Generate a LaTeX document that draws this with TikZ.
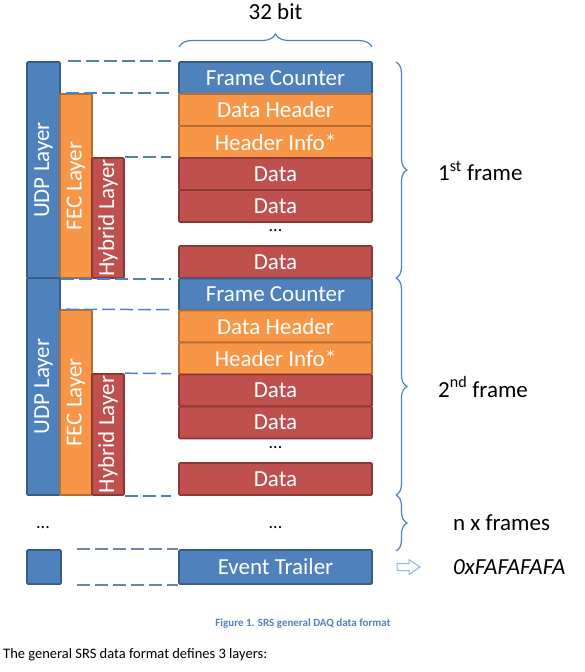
\documentclass[tikz,border=0pt]{standalone}
\usepackage{fontspec}
\setmainfont{Carlito}
\usetikzlibrary{decorations.pathreplacing}
\definecolor{bfill}{HTML}{4F81BD}
\definecolor{bline}{HTML}{385D8A}
\definecolor{ofill}{HTML}{F79646}
\definecolor{oline}{HTML}{B66D31}
\definecolor{rfill}{HTML}{C0504D}
\definecolor{rline}{HTML}{8C3836}
\definecolor{dashgray}{HTML}{6F85A3}
\definecolor{arrowblue}{HTML}{8EB4E3}
\tikzset{
  big/.style={font=\fontsize{23}{27}\selectfont},
  cell/.style={big, text=white, line width=1.6pt, rounded corners=1pt, inner sep=0pt, minimum width=193pt, minimum height=32pt},
  bluecell/.style={cell, fill=bfill, draw=bline},
  orangecell/.style={cell, fill=ofill, draw=oline},
  redcell/.style={cell, fill=rfill, draw=rline},
  bar/.style={line width=1.6pt, rounded corners=1pt, inner sep=0pt, minimum height=#1,
    label={[big, text=white, rotate=90, inner sep=0pt]center:\barlabel}},
  guide/.style={draw=bfill, line width=1.5pt, dash pattern=on 13pt off 5pt},
  guidegray/.style={draw=dashgray, line width=1.5pt, dash pattern=on 13pt off 5pt},
  bracestyle/.style={draw=bfill, line width=1.2pt, decorate, decoration={brace, amplitude=11pt}},
  lbl/.style={big, text=black, anchor=west, inner sep=0pt},
  dots/.style={font=\fontsize{18}{20}\selectfont, inner sep=0pt}
}
\newcommand{\barlabel}{}
\begin{document}
\begin{tikzpicture}[x=1pt, y=-1pt]
\useasboundingbox (0,0) rectangle (585,672);

% 32 bit
\node[big, inner sep=0pt] (bits) at (275.5,12) {32 bit};
\coordinate (tb1) at (179,47);
\coordinate (tb2) at (372,47);
\draw[bracestyle, decoration={amplitude=13pt}] (tb1) -- (tb2);

% frame 1 cells
\node[bluecell]   (fc1) at (275.5,78)  {Frame Counter};
\node[orangecell] (dh1) at (275.5,110) {Data Header};
\node[orangecell] (hi1) at (275.5,142) {Header Info*};
\node[redcell]    (da1) at (275.5,174) {Data};
\node[redcell]    (db1) at (275.5,206) {Data};
\node[dots]       (dt1) at (275.5,231) {...};
\node[redcell]    (dc1) at (275.5,262) {Data};

% frame 2 cells
\node[bluecell]   (fc2) at (275.5,294.5) {Frame Counter};
\node[orangecell] (dh2) at (275.5,326.5) {Data Header};
\node[orangecell] (hi2) at (275.5,358.5) {Header Info*};
\node[redcell]    (da2) at (275.5,390.5) {Data};
\node[redcell]    (db2) at (275.5,422.5) {Data};
\node[dots]       (dt2) at (275.5,448) {...};
\node[redcell]    (dc2) at (275.5,479) {Data};

% layer bars frame 1
\renewcommand{\barlabel}{UDP Layer}
\node[bar=216pt, fill=bfill, draw=bline, minimum width=33pt] (udp1) at (43.5,170) {};
\renewcommand{\barlabel}{FEC Layer}
\node[bar=184pt, fill=ofill, draw=oline, minimum width=32pt] (fec1) at (76,186) {};
\renewcommand{\barlabel}{Hybrid Layer}
\node[bar=120pt, fill=rfill, draw=rline, minimum width=32pt] (hyb1) at (108,218) {};

% layer bars frame 2
\renewcommand{\barlabel}{UDP Layer}
\node[bar=217pt, fill=bfill, draw=bline, minimum width=33pt] (udp2) at (43.5,386.5) {};
\renewcommand{\barlabel}{FEC Layer}
\node[bar=185pt, fill=ofill, draw=oline, minimum width=32pt] (fec2) at (76,402.5) {};
\renewcommand{\barlabel}{Hybrid Layer}
\node[bar=121pt, fill=rfill, draw=rline, minimum width=32pt] (hyb2) at (108,434.5) {};

% guides frame 1
\draw[guide, shorten >=7pt, shorten <=7pt] (udp1.north east) -- (fc1.north west);
\draw[guide, shorten >=7pt, shorten <=7pt] (fec1.north west) -- (dh1.north west);
\draw[guide, shorten >=7pt] (hyb1.north east) -- (da1.north west);
\draw[guide, shorten >=7pt] (udp1.south east) -- (dc1.south west);

% guides frame 2
\draw[guide, shorten >=7pt, shorten <=7pt] (fec2.north west) -- (dh2.north west);
\draw[guide, shorten >=7pt] (hyb2.north east) -- (da2.north west);
\draw[guide, shorten >=7pt] (hyb2.south east) -- (dc2.south west);

% right braces
\coordinate (r1a) at (396,62);
\coordinate (r1b) at (396,278);
\coordinate (r2a) at (396,278);
\coordinate (r2b) at (396,495);
\coordinate (r3a) at (396,495);
\coordinate (r3b) at (396,551);
\draw[bracestyle] (r1a) -- (r1b);
\draw[bracestyle] (r2a) -- (r2b);
\draw[bracestyle] (r3a) -- (r3b);
\node[lbl] (l1) at (438,171) {1\textsuperscript{st} frame};
\node[lbl] (l2) at (438,387) {2\textsuperscript{nd} frame};
\node[lbl] (l3) at (453,523) {n x frames};

% bottom
\node[dots] (dl) at (43,528) {...};
\node[dots] (dr) at (275.5,528) {...};
\node[fill=bfill, draw=bline, line width=1.6pt, rounded corners=1pt, inner sep=0pt, minimum width=34pt, minimum height=34pt] (sq) at (44,567) {};
\node[bluecell, minimum height=34pt] (et) at (275.5,567) {Event Trailer};
\draw[guidegray, shorten <=15pt] (sq.north east) -- (et.north west);
\draw[guidegray, shorten <=15pt] (sq.south east) -- (et.south west);

% hollow arrow
\coordinate (ar) at (397,567);
\draw[draw=arrowblue, fill=white, line width=1pt]
  (ar) ++(0,-3.5) -- ++(12,0) -- ++(0,-4) -- ++(11,7.5) -- ++(-11,7.5) -- ++(0,-4) -- ++(-12,0) -- cycle;
\node[lbl, font=\fontsize{23}{27}\selectfont\itshape] (hex) at (453,567) {0xFAFAFAFA};

% caption and text
\node[font=\fontsize{11}{13}\selectfont\bfseries, text=bfill, inner sep=0pt] (cap) at (303,624) {Figure 1. SRS general DAQ data format};
\node[font=\fontsize{14.5}{17}\selectfont, anchor=west, inner sep=0pt] (body) at (3,655) {The general SRS data format defines 3 layers:};
\end{tikzpicture}
\end{document}
